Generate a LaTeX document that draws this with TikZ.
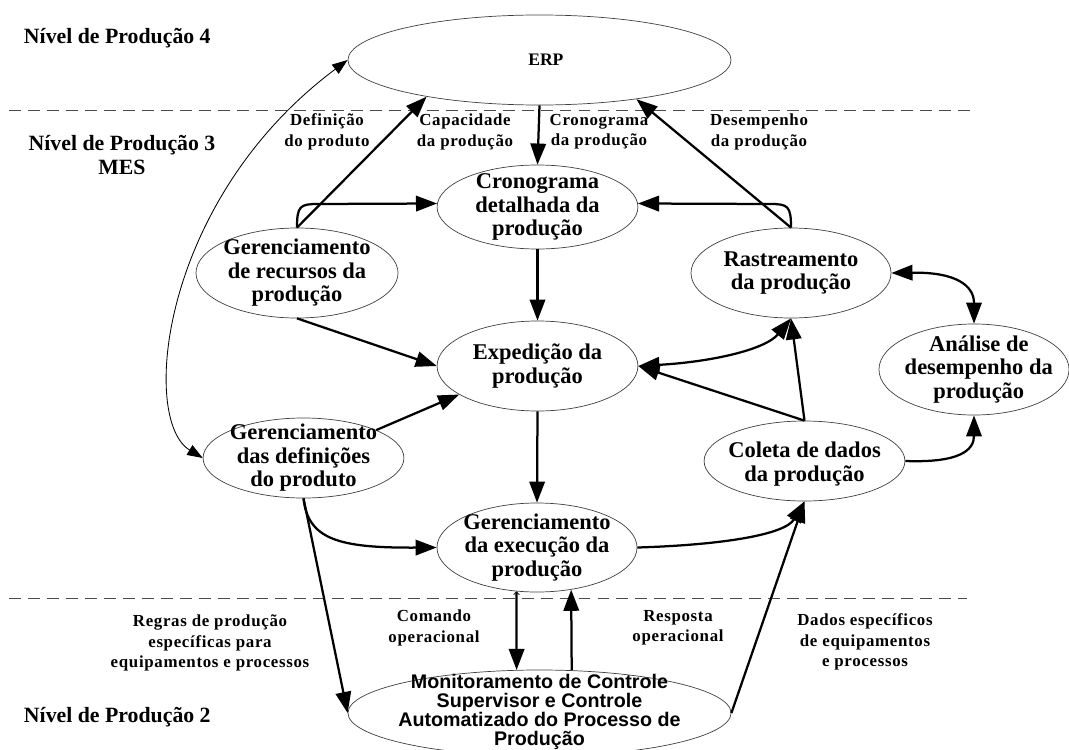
\documentclass[tikz,border=0pt]{standalone}
\usepackage{fontspec}
\setmainfont{Liberation Serif}
\setsansfont{Liberation Sans}
\newfontfamily\lblfont{Liberation Serif}[LetterSpace=4]
\usetikzlibrary{positioning, arrows.meta, shapes.geometric}

\begin{document}
\begin{tikzpicture}[
    x=0.025cm, y=-0.025cm,
    proc/.style={
        draw=black!75, ellipse, line width=0.5pt, inner sep=0pt,
        minimum width=5.02cm, minimum height=2.25cm
    },
    ptxt/.style={font=\bfseries\fontsize{16}{16.7}\selectfont, align=center},
    mtxt/.style={font=\sffamily\bfseries\fontsize{14}{13.6}\selectfont, align=center},
    elbl/.style={font=\lblfont\bfseries\fontsize{12}{14.5}\selectfont, align=center},
    lvl/.style={font=\bfseries\fontsize{15.5}{17}\selectfont, align=center},
    flow/.style={-{Triangle[length=15pt, width=11pt]}, line width=1.6pt},
    both/.style={{Triangle[length=11pt, width=8pt]}-{Triangle[length=11pt, width=8pt]}, line width=0.6pt},
    tier/.style={black!70, line width=0.7pt, dash pattern=on 8.5pt off 5pt},
]
\useasboundingbox (0,0) rectangle (1069,749);

% Level separators
\def\yA{110}
\def\yB{598}
\draw[tier] (9,\yA) -- (972,\yA);
\draw[tier] (9,\yB) -- (967,\yB);

% ====== LEVEL LABELS ======
\node[lvl, anchor=west] (niv4) at (19,38) {Nível de Produção 4};
\node[lvl] (niv3) at (122,155) {Nível de Produção 3\\MES};
\node[lvl, anchor=west] (niv2) at (19,717) {Nível de Produção 2};

% ====== FUNCTIONS ======
\node[proc, minimum width=9.575cm, minimum height=2.25cm,
    label={[font=\bfseries\fontsize{12.5}{14}\selectfont, xshift=0.16cm]center:ERP}] (erp) at (539.5,60) {};
\node[proc, minimum height=2.1cm,
    label={[ptxt]center:Cronograma\\detalhada da\\produção}] (crono) at (537.5,207) {};
\node[proc, minimum width=5.05cm,
    label={[ptxt]center:Gerenciamento\\de recursos da\\produção}] (recursos) at (297,273) {};
\node[proc, label={[ptxt]center:Expedição da\\produção}] (exped) at (537.5,366) {};
\node[proc, minimum height=2.0cm,
    label={[ptxt]center:Gerenciamento\\das definições\\do produto}] (defin) at (303.5,458) {};
\node[proc, minimum width=5.0cm,
    label={[ptxt]center:Rastreamento\\da produção}] (rastr) at (791,273) {};
\node[proc, minimum width=4.75cm, minimum height=2.275cm,
    label={[ptxt, xshift=0.12cm]center:Análise de\\desempenho da\\produção}] (analise) at (974,369.5) {};
\node[proc, minimum height=2.0cm,
    label={[ptxt, yshift=-0.08cm]center:Coleta de dados\\da produção}] (coleta) at (804.5,461) {};
\node[proc, minimum width=5.0cm, minimum height=2.225cm,
    label={[ptxt]center:Gerenciamento\\da execução da\\produção}] (exec) at (537,547.5) {};
\node[proc, minimum width=9.575cm, minimum height=2.15cm,
    label={[mtxt, yshift=0.03cm]center:Monitoramento de Controle\\Supervisor e Controle\\Automatizado do Processo de\\Produção}] (monit) at (539.5,713) {};

% ====== EDGE LABELS ======
\node[elbl] (ldef) at (327,132) {Definição\\do produto};
\node[elbl] (lcap) at (465,132) {Capacidade\\da produção};
\node[elbl] (lcro) at (599,132) {Cronograma\\da produção};
\node[elbl] (ldes) at (759,132) {Desempenho\\da produção};
\node[elbl] (lreg) at (210,643) {Regras de produção\\específicas para\\equipamentos e processos};
\node[elbl] (lcom) at (434,628) {Comando\\operacional};
\node[elbl] (lres) at (678,628) {Resposta\\operacional};
\node[elbl] (ldad) at (865,642) {Dados específicos\\de equipamentos\\e processos};

% ====== CONNECTORS ======
\draw[both] (defin.west) .. controls (140,420) and (160,200) .. (erp.west);
\draw[flow] (recursos.north) -- (erp.198);
\draw[flow] (recursos.north) .. controls (297,206) and (300,204) .. (318,204) -- (crono.178);
\draw[flow] (erp.south) -- (crono.north);
\draw[flow] (rastr.north) -- (erp.338);
\draw[flow] (rastr.north) .. controls (791,206) and (788,204) .. (770,204) -- (crono.2);
\draw[flow] (crono.south) -- (exped.north);
\draw[flow] (recursos.south) -- (exped.west);
\draw[flow] (defin.21) -- (exped.200);
\draw[flow] (exped.south) -- (exec.north);
\draw[flow, {Triangle[length=15pt, width=11pt]}-{Triangle[length=15pt, width=11pt]}]
    (exped.east) .. controls (710,362) and (765,350) .. (rastr.south);
\draw[flow] (coleta.north) -- (rastr.south);
\draw[flow] (coleta.north) -- (exped.east);
\draw[flow, {Triangle[length=15pt, width=11pt]}-{Triangle[length=15pt, width=11pt]}]
    (rastr.east) .. controls (955,272) and (974,285) .. (analise.north);
\draw[flow] (coleta.east) .. controls (960,463) and (974,450) .. (analise.south);
\draw[flow] (defin.south) .. controls (308,540) and (340,548) .. (exec.west);
\draw[flow] (defin.south) -- (monit.west);
\draw[flow] (exec.east) .. controls (720,545) and (785,535) .. (coleta.south);
\draw[flow] (monit.east) -- (coleta.south);
\draw[flow, {Straight Barb[length=2pt, width=4pt, line width=0.5pt]}-{Triangle[length=15pt, width=11pt]}]
    (exec.245) -- (monit.118);
\draw[flow] (monit.53) -- (exec.309);

\end{tikzpicture}
\end{document}
